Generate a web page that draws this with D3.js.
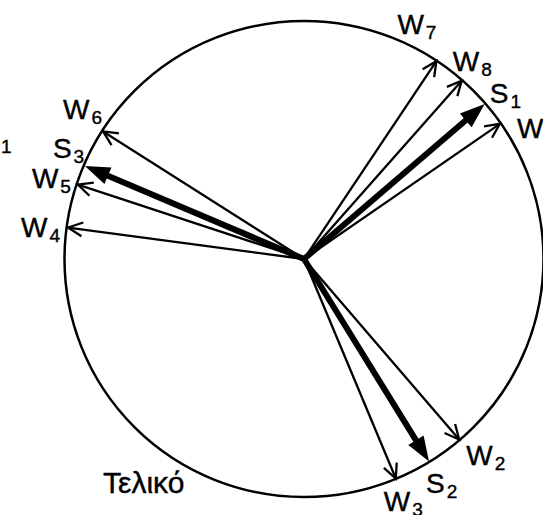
<!DOCTYPE html>
<html>
<head>
<meta charset="utf-8">
<script src="https://cdn.jsdelivr.net/npm/d3@7"></script>
<style>
  body { margin: 0; background: #fff; }
  text { font-family: "Liberation Sans", Arial, sans-serif; fill: #000; stroke: #000; stroke-width: 0.4px; }
</style>
</head>
<body>
<div id="chart"></div>
<script>
// phasor data: angle in degrees (counter-clockwise from +x), unit magnitude
const windingIds = [1, 2, 3, 4, 5, 6, 7, 8];
const windingAngles = [34.6, -49.3, -67.3, 172.4, 161.8, 147.6, 56.2, 48.5];
const sumIds = [1, 2, 3];
const sumAngles = [40.6, -58.3, 157.0];
const titleText = "Τελικό";

// label placement relative to the arrow tip (layout only)
const labelOffset = {
    W1: [17, 14], W2: [7, 26], W3: [-12, 32], W4: [-47, 9],
    W5: [-46, 3], W6: [-40, -12], W7: [-39, -27], W8: [-9, -10],
    S1: [5, -1], S2: [-3, 32], S3: [-32, -8]
};

const width = 543, height = 515;
const cx = 304, cy = 259;

const svg = d3.select("#chart")
    .append("svg")
    .attr("width", width)
    .attr("height", height);

const r = d3.scaleLinear().domain([0, 1]).range([0, 238]);
const toXY = (deg, mag) => [
    cx + r(mag) * Math.cos(deg * Math.PI / 180),
    cy - r(mag) * Math.sin(deg * Math.PI / 180)
];

// outer circle
svg.append("ellipse")
    .attr("cx", cx)
    .attr("cy", cy)
    .attr("rx", r(1) + 1.5)
    .attr("ry", r(1))
    .attr("fill", "none")
    .attr("stroke", "#000")
    .attr("stroke-width", 2.5);

const windings = windingIds.map((id, i) => ({ name: "W" + id, letter: "W", id: id, angle: windingAngles[i] }));
const sums = sumIds.map((id, i) => ({ name: "S" + id, letter: "S", id: id, angle: sumAngles[i] }));

// thin arrows with open heads
windings.forEach(d => {
    const [x, y] = toXY(d.angle, 1);
    const a = Math.atan2(y - cy, x - cx);
    const len = 16, spread = 0.45;
    svg.append("line")
        .attr("x1", cx).attr("y1", cy)
        .attr("x2", x).attr("y2", y)
        .attr("stroke", "#000")
        .attr("stroke-width", 2.3);
    svg.append("path")
        .attr("d", `M${x - len * Math.cos(a - spread)},${y - len * Math.sin(a - spread)}L${x},${y}L${x - len * Math.cos(a + spread)},${y - len * Math.sin(a + spread)}`)
        .attr("fill", "none")
        .attr("stroke", "#000")
        .attr("stroke-width", 2.3);
});

// thick arrows with filled heads
sums.forEach(d => {
    const [x, y] = toXY(d.angle, 1);
    const a = Math.atan2(y - cy, x - cx);
    const len = 25, half = 9;
    const bx = x - len * Math.cos(a), by = y - len * Math.sin(a);
    svg.append("line")
        .attr("x1", cx).attr("y1", cy)
        .attr("x2", bx + 2 * Math.cos(a)).attr("y2", by + 2 * Math.sin(a))
        .attr("stroke", "#000")
        .attr("stroke-width", 6);
    svg.append("path")
        .attr("d", `M${x},${y}L${bx - half * Math.sin(a)},${by + half * Math.cos(a)}L${bx + half * Math.sin(a)},${by - half * Math.cos(a)}Z`)
        .attr("fill", "#000");
});

// labels with subscripts
windings.concat(sums).forEach(d => {
    const [x, y] = toXY(d.angle, 1);
    const off = labelOffset[d.name];
    const t = svg.append("text")
        .attr("x", x + off[0])
        .attr("y", y + off[1])
        .attr("font-size", 28);
    t.append("tspan").text(d.letter);
    t.append("tspan")
        .attr("font-size", 19)
        .attr("dx", 2)
        .attr("dy", 5)
        .text(d.id);
});

// stray subscript at the left edge
svg.append("text")
    .attr("x", 1)
    .attr("y", 153)
    .attr("font-size", 19)
    .text("1");

svg.append("text")
    .attr("x", 103)
    .attr("y", 493)
    .attr("font-size", 30)
    .text(titleText);
</script>
</body>
</html>
